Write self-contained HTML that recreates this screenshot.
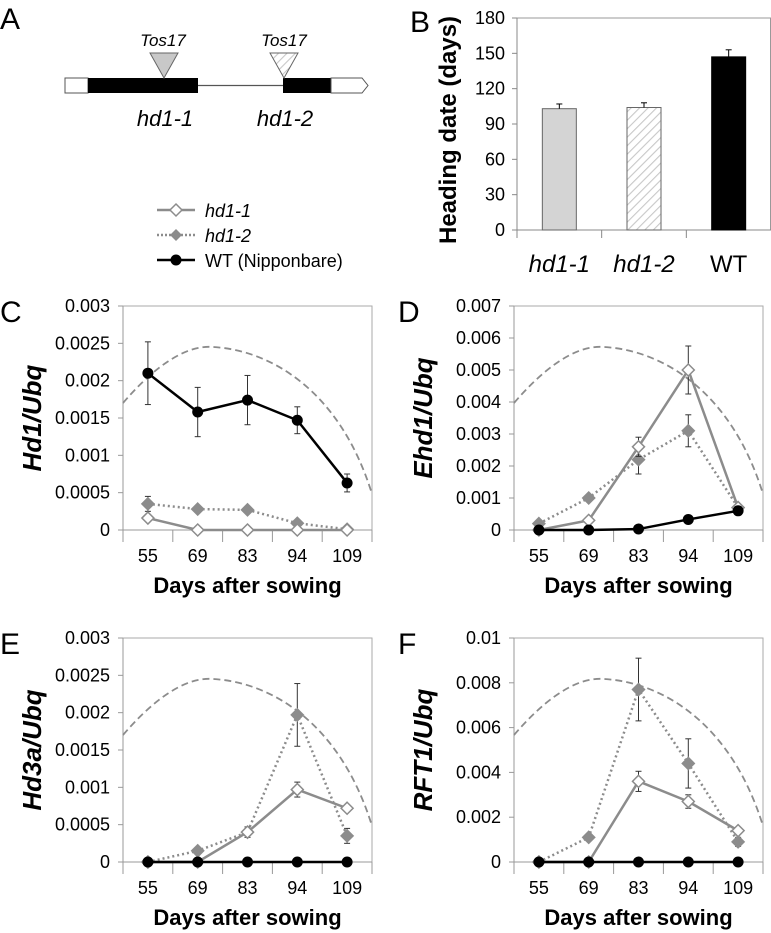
<!DOCTYPE html>
<html><head><meta charset="utf-8"><style>
html,body{margin:0;padding:0;background:#fff;}
svg{display:block;font-family:"Liberation Sans",sans-serif;}
</style></head><body>
<svg id="fig" width="771" height="933" viewBox="0 0 771 933" xmlns="http://www.w3.org/2000/svg">
<defs>
<pattern id="hatch" width="6" height="6" patternUnits="userSpaceOnUse" patternTransform="rotate(45)">
<rect width="6" height="6" fill="#fff"/><line x1="0" y1="0" x2="0" y2="6" stroke="#c8c8c8" stroke-width="2.2"/>
</pattern>
</defs>
<!-- Panel A -->
<g>
<text x="0" y="29" font-size="30">A</text>
<line x1="198" y1="85.5" x2="283" y2="85.5" stroke="#555" stroke-width="1.2"/>
<rect x="65" y="78" width="23" height="15" fill="#fff" stroke="#555" stroke-width="1"/>
<rect x="88" y="78" width="110" height="15" fill="#000"/>
<rect x="283" y="78" width="48" height="15" fill="#000"/>
<path d="M331,78 L362,78 L368,85.5 L362,93 L331,93 Z" fill="#fff" stroke="#555" stroke-width="1"/>
<path d="M150,53 L178,53 L164,78 Z" fill="#c8c8c8" stroke="#666" stroke-width="1"/>
<path d="M270,53 L298,53 L284,78 Z" fill="url(#hatch)" stroke="#666" stroke-width="1"/>
<text x="163" y="46" font-size="17" font-style="italic" text-anchor="middle">Tos17</text>
<text x="284" y="46" font-size="17" font-style="italic" text-anchor="middle">Tos17</text>
<text x="165" y="126" font-size="22" font-style="italic" text-anchor="middle">hd1-1</text>
<text x="285" y="126" font-size="22" font-style="italic" text-anchor="middle">hd1-2</text>
</g>
<!-- Legend -->
<g>
<g>
<line x1="157" y1="210" x2="195" y2="210" stroke="#8c8c8c" stroke-width="2.5"/>
<path d="M176,204 L182,210 L176,216 L170,210 Z" fill="#fff" stroke="#8c8c8c" stroke-width="1.5"/>
<text x="205" y="217" font-size="18" font-style="italic">hd1-1</text></g>
<g>
<line x1="157" y1="235" x2="195" y2="235" stroke="#8c8c8c" stroke-width="2.5" stroke-dasharray="2,2"/>
<path d="M176,229 L182,235 L176,241 L170,235 Z" fill="#8c8c8c"/>
<text x="205" y="242" font-size="18" font-style="italic">hd1-2</text></g>
<g>
<line x1="157" y1="260" x2="195" y2="260" stroke="#000" stroke-width="2.5"/>
<circle cx="176" cy="260" r="5.5" fill="#000"/>
<text x="205" y="267" font-size="18">WT (Nipponbare)</text></g>
</g>
<g id="panelB"></g>
<g id="panels"></g>
</svg>
<script>
// Panel B data
const bCategories = ["hd1-1","hd1-2","WT"];
const bValues = [103, 104, 147];
const bErrors = [4, 4, 6];
const bTicks = [0,30,60,90,120,150,180];

// Expression data
const days = ["55","69","83","94","109"];
const hd1Hd1_1 = [0.00016,0,0,0,0];
const hd1Hd1_2 = [0.00035,0.00028,0.00027,0.00009,0.00001];
const hd1WT = [0.0021,0.00158,0.00174,0.00147,0.00063];
const hd1ErrWT = [0.00042,0.00033,0.00033,0.00018,0.00012];
const hd1ErrHd1_2 = [0.0001,0,0,0,0];
const ehd1Hd1_1 = [0,0.0003,0.0026,0.005,0.0007];
const ehd1Hd1_2 = [0.0002,0.001,0.0022,0.0031,0.0007];
const ehd1WT = [0,0,0.00003,0.00033,0.0006];
const ehd1ErrHd1_1 = [0,0,0.0003,0.00075,0];
const ehd1ErrHd1_2 = [0,0,0.00045,0.0005,0];
const hd3aHd1_1 = [0,0,0.0004,0.00097,0.00072];
const hd3aHd1_2 = [0,0.00015,0.0004,0.00197,0.00035];
const hd3aWT = [0,0,0,0,0];
const hd3aErrHd1_1 = [0,0,0,0.0001,0];
const hd3aErrHd1_2 = [0,0,0.00007,0.00042,0.0001];
const rft1Hd1_1 = [0,0,0.0036,0.0027,0.0014];
const rft1Hd1_2 = [0,0.0011,0.0077,0.0044,0.0009];
const rft1WT = [0,0,0,0,0];
const rft1ErrHd1_1 = [0,0,0.00045,0.0003,0];
const rft1ErrHd1_2 = [0,0,0.0014,0.0011,0.0002];
const ticksC = ["0","0.0005","0.001","0.0015","0.002","0.0025","0.003"];
const ticksD = ["0","0.001","0.002","0.003","0.004","0.005","0.006","0.007"];
const ticksF = ["0","0.002","0.004","0.006","0.008","0.01"];

const NS="http://www.w3.org/2000/svg";
function mk(tag, attrs, parent){const e=document.createElementNS(NS,tag);for(const k in attrs)e.setAttribute(k,attrs[k]);if(parent)parent.appendChild(e);return e;}

// Panel B
(function(){
  const g=document.getElementById('panelB');
  const L=517,R=771,T=18,B=230,max=180;
  const y=v=>B-(v/max)*(B-T);
  const band=(R-L)/3;
  const x=i=>L+band*(i+0.5);
  const lab=mk('text',{x:410,y:32,'font-size':30},g);lab.textContent='B';
  
  
  mk('polyline',{points:`${L},${T} ${R-0.5},${T} ${R-0.5},${B}`,fill:'none',stroke:'#999','stroke-width':1},g);
  mk('line',{x1:L,y1:T,x2:L,y2:B+8,stroke:'#888','stroke-width':1},g);
  mk('line',{x1:L,y1:B,x2:R,y2:B,stroke:'#888','stroke-width':1},g);
  for(let i=1;i<3;i++) mk('line',{x1:L+band*i,y1:B,x2:L+band*i,y2:B+8,stroke:'#888'},g);
  bTicks.forEach(t=>{
    mk('line',{x1:L-5,y1:y(t),x2:L,y2:y(t),stroke:'#888'},g);
    const tx=mk('text',{x:L-12,y:y(t)+6,'font-size':18,'text-anchor':'end'},g);tx.textContent=t;
    
    
  });
  const fills=['#d4d4d4','url(#hatch)','#000'];
  bValues.forEach((v,i)=>{
    const r=mk('rect',{x:x(i)-17,y:y(v),width:34,height:B-y(v),fill:fills[i],stroke:i==2?'#000':'#666','stroke-width':1},g);
    
    
    mk('line',{x1:x(i),y1:y(v+bErrors[i]),x2:x(i),y2:y(v),stroke:'#000'},g);
    mk('line',{x1:x(i)-3,y1:y(v+bErrors[i]),x2:x(i)+3,y2:y(v+bErrors[i]),stroke:'#000'},g);
    const t=mk('text',{x:x(i),y:272,'font-size':24,'text-anchor':'middle','font-style':i<2?'italic':'normal'},g);
    t.textContent=bCategories[i];
    
    
  });
  const yt=mk('text',{x:0,y:0,'font-size':24,'font-weight':'bold','text-anchor':'middle',transform:`translate(456,130) rotate(-90)`},g);
  yt.textContent='Heading date (days)';
  
  
})();

function panel(opt){
  const root=document.getElementById('panels');
  const g=mk('g',{},root);
  
  
  const L=opt.L,R=opt.L+249,T=opt.T,B=opt.T+224;
  const max=parseFloat(opt.ticks[opt.ticks.length-1]);
  const y=v=>B-(v/max)*(B-T);
  const band=(R-L)/5;
  const x=i=>L+band*(i+0.5);
  const lab=mk('text',{x:opt.lx,y:T+16,'font-size':30},g);lab.textContent=opt.letter;
  
  
  mk('polyline',{points:`${L},${T} ${R},${T} ${R},${B}`,fill:'none',stroke:'#aaa','stroke-width':1},g);
  mk('line',{x1:L,y1:T,x2:L,y2:B+12,stroke:'#999'},g);
  mk('line',{x1:L,y1:B,x2:R,y2:B,stroke:'#999'},g);
  for(let i=1;i<=5;i++) mk('line',{x1:L+band*i,y1:B,x2:L+band*i,y2:B+12,stroke:'#999'},g);
  opt.ticks.forEach(t=>{
    const v=parseFloat(t);
    mk('line',{x1:L-5,y1:y(v),x2:L,y2:y(v),stroke:'#999'},g);
    const tx=mk('text',{x:L-13,y:y(v)+6,'font-size':18,'text-anchor':'end'},g);tx.textContent=t;
    
    
  });
  days.forEach((d,i)=>{
    const tx=mk('text',{x:x(i),y:B+32,'font-size':18,'text-anchor':'middle'},g);tx.textContent=d;
    
    
  });
  const xt=mk('text',{x:(L+R)/2,y:B+63,'font-size':22,'font-weight':'bold','text-anchor':'middle'},g);
  xt.textContent='Days after sowing';
  
  
  const yt=mk('text',{x:0,y:0,'font-size':26,'font-weight':'bold','font-style':'italic','text-anchor':'middle',transform:`translate(${L-82},${(T+B)/2}) rotate(-90)`},g);
  yt.textContent=opt.title;
  
  
  const c=mk('path',{d:`M${L},${T+97} C${L+37},${T+54} ${L+67},${T+39} ${L+90},${T+41} C${L+147},${T+44} ${L+217},${T+84} ${L+249},${T+188}`,fill:'none',stroke:'#8c8c8c','stroke-width':1.8,'stroke-dasharray':'7,4'},g);
  
  
  function series(vals,errs,style,name){
    const s=mk('g',{},g);
    
    
    if(errs) vals.forEach((v,i)=>{ if(errs[i]>0){
      mk('line',{x1:x(i),y1:y(v-errs[i]),x2:x(i),y2:y(v+errs[i]),stroke:'#333','stroke-width':1},s);
      mk('line',{x1:x(i)-3,y1:y(v+errs[i]),x2:x(i)+3,y2:y(v+errs[i]),stroke:'#333'},s);
      mk('line',{x1:x(i)-3,y1:y(v-errs[i]),x2:x(i)+3,y2:y(v-errs[i]),stroke:'#333'},s);
    }});
    mk('polyline',{points:vals.map((v,i)=>x(i)+','+y(v)).join(' '),fill:'none',stroke:style.c,'stroke-width':2.5,'stroke-dasharray':style.dash||'none'},s);
    vals.forEach((v,i)=>{
      let m;
      if(style.m==='circle') m=mk('circle',{cx:x(i),cy:y(v),r:5.5,fill:'#000'},s);
      else m=mk('path',{d:`M${x(i)},${y(v)-6} L${x(i)+6},${y(v)} L${x(i)},${y(v)+6} L${x(i)-6},${y(v)} Z`,fill:style.f,stroke:'#8c8c8c','stroke-width':1.5},s);
      
      
    });
  }
  series(opt.s2,opt.e2,{c:'#8c8c8c',dash:'2,3',f:'#8c8c8c'},'hd1-2');
  series(opt.s1,opt.e1,{c:'#8c8c8c',f:'#fff'},'hd1-1');
  series(opt.wt,opt.ew,{c:'#000',m:'circle'},'wt');
}
panel({letter:'C',lx:0,L:123,T:306,ticks:ticksC,title:'Hd1/Ubq',s1:hd1Hd1_1,e1:null,s2:hd1Hd1_2,e2:hd1ErrHd1_2,wt:hd1WT,ew:hd1ErrWT});
panel({letter:'D',lx:398,L:514,T:306,ticks:ticksD,title:'Ehd1/Ubq',s1:ehd1Hd1_1,e1:ehd1ErrHd1_1,s2:ehd1Hd1_2,e2:ehd1ErrHd1_2,wt:ehd1WT,ew:null});
panel({letter:'E',lx:0,L:123,T:638,ticks:ticksC,title:'Hd3a/Ubq',s1:hd3aHd1_1,e1:hd3aErrHd1_1,s2:hd3aHd1_2,e2:hd3aErrHd1_2,wt:hd3aWT,ew:null});
panel({letter:'F',lx:398,L:514,T:638,ticks:ticksF,title:'RFT1/Ubq',s1:rft1Hd1_1,e1:rft1ErrHd1_1,s2:rft1Hd1_2,e2:rft1ErrHd1_2,wt:rft1WT,ew:null});
</script>
</body></html>
